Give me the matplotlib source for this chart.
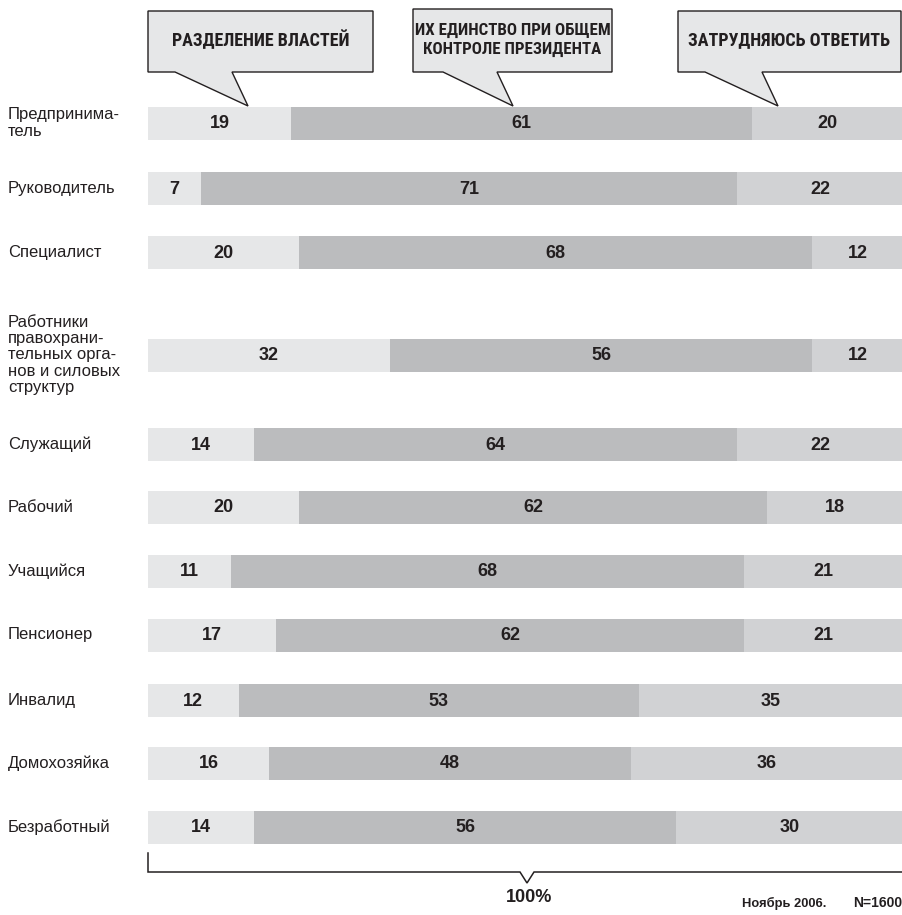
import matplotlib
matplotlib.use("Agg")
import matplotlib.pyplot as plt
from matplotlib.patches import Polygon
from matplotlib import font_manager as fm
import numpy as np

# Survey data: share of answers (%) by occupational group
groups = [
    "Предпринима-\nтель",
    "Руководитель",
    "Специалист",
    "Работники\nправохрани-\nтельных орга-\nнов и силовых\nструктур",
    "Служащий",
    "Рабочий",
    "Учащийся",
    "Пенсионер",
    "Инвалид",
    "Домохозяйка",
    "Безработный",
]
separation = [19, 7, 20, 32, 14, 20, 11, 17, 12, 16, 14]
unity = [61, 71, 68, 56, 64, 62, 68, 62, 53, 48, 56]
undecided = [20, 22, 12, 12, 22, 18, 21, 21, 35, 36, 30]

answers = ["РАЗДЕЛЕНИЕ ВЛАСТЕЙ",
           "ИХ ЕДИНСТВО ПРИ ОБЩЕМ\nКОНТРОЛЕ ПРЕЗИДЕНТА",
           "ЗАТРУДНЯЮСЬ ОТВЕТИТЬ"]
total_label = "100%"
footnote_date = "Ноябрь 2006."
footnote_n = "N=1600"

# Layout (pixel units of the 903x915 canvas)
W, H = 903, 915
row_y = [123, 188, 252, 355, 444, 507, 571, 635, 700, 763, 827]
bar_h = 33
bar_left_px = 148
colors = ["#e6e7e8", "#bbbcbe", "#d1d2d4"]
ink = "#231f20"

plt.rcParams["font.family"] = ["Liberation Sans", "DejaVu Sans"]


def condensed_family():
    """Pick a narrow bold-capable family if one is installed."""
    entries = fm.fontManager.ttflist
    names = {f.name for f in entries}
    for n in ["Liberation Sans Narrow", "Roboto Condensed",
              "Open Sans Condensed", "Noto Sans Condensed",
              "DejaVu Sans Condensed"]:
        if n in names:
            return dict(family=[n, "Liberation Sans"])
    for base in ["Liberation Sans", "Roboto", "Noto Sans", "Open Sans",
                 "DejaVu Sans"]:
        for f in entries:
            if f.name == base and f.stretch in ("condensed", "semi-condensed",
                                                "extra-condensed", 300, 400, 200):
                return dict(family=[base], fontstretch="condensed")
    return dict(family=["Liberation Sans", "DejaVu Sans"])


narrow = condensed_family()

fig = plt.figure(figsize=(W / 100, H / 100), dpi=100)
renderer = fig.canvas.get_renderer()

# Overlay axes in pixel coordinates for labels and callouts
axp = fig.add_axes([0, 0, 1, 1])
axp.set_xlim(0, W)
axp.set_ylim(H, 0)
axp.axis("off")

# Bar axes: x in percent, y in canvas pixels
ax = fig.add_axes([bar_left_px / W, 0, 1 - bar_left_px / W, 1])
ax.set_xlim(0, 100)
ax.set_ylim(H, 0)
ax.axis("off")

series = [separation, unity, undecided]
left = np.zeros(len(groups))
for vals, col in zip(series, colors):
    vals = np.array(vals, dtype=float)
    ax.barh(row_y, vals, left=left, height=bar_h, color=col, edgecolor="none")
    for y, l, v in zip(row_y, left, vals):
        ax.text(l + v / 2, y + 1, f"{int(v)}", ha="center", va="center",
                fontsize=13, fontweight="bold", color=ink)
    left += vals

# Row labels
for y, g in zip(row_y, groups):
    axp.text(8, y, g, ha="left", va="center", fontsize=12, color=ink,
             linespacing=1.12)

# Callout boxes with pointers
callouts = [
    # box (x0, x1, y0, y1), tail (start_left, tip, start_right), text width
    ((148, 373, 11, 72), (175, 248, 232), answers[0], 186),
    ((413, 612, 9, 72), (443, 513, 497), answers[1], 195),
    ((678, 901, 11, 72), (705, 778, 762), answers[2], 206),
]
tip_y = 106
for (x0, x1, y0, y1), (tl, tip, tr), txt, tw in callouts:
    pts = [(x0, y0), (x1, y0), (x1, y1), (tr, y1), (tip, tip_y),
           (tl, y1), (x0, y1)]
    axp.add_patch(Polygon(pts, closed=True, facecolor=colors[0],
                          edgecolor=ink, linewidth=1.0, zorder=3))
    t = axp.text((x0 + x1) / 2, 40, txt, ha="center", va="center",
                 fontsize=13, fontweight="bold", color=ink, linespacing=1.38,
                 zorder=4, **narrow)
    width = t.get_window_extent(renderer=renderer).width
    if width > tw:
        t.set_fontsize(13 * tw / width)

# Bracket spanning 100%
bx0, bx1, by, btop = 148, W + 2, 872, 853
notch_x = 527
axp.plot([bx0, bx0, notch_x - 7, notch_x, notch_x + 7, bx1],
         [btop, by, by, by + 11, by, by], color=ink, lw=1.1,
         solid_joinstyle="miter")
axp.text(notch_x + 2, 898, total_label, ha="center", va="center",
         fontsize=13, fontweight="bold", color=ink)

axp.text(826, 903, footnote_date, ha="right", va="center", fontsize=9.3,
         fontweight="bold", color=ink)
axp.text(902, 903, footnote_n, ha="right", va="center", fontsize=10,
         fontweight="bold", color=ink)

fig.savefig("out.png", dpi=100, facecolor="white")
